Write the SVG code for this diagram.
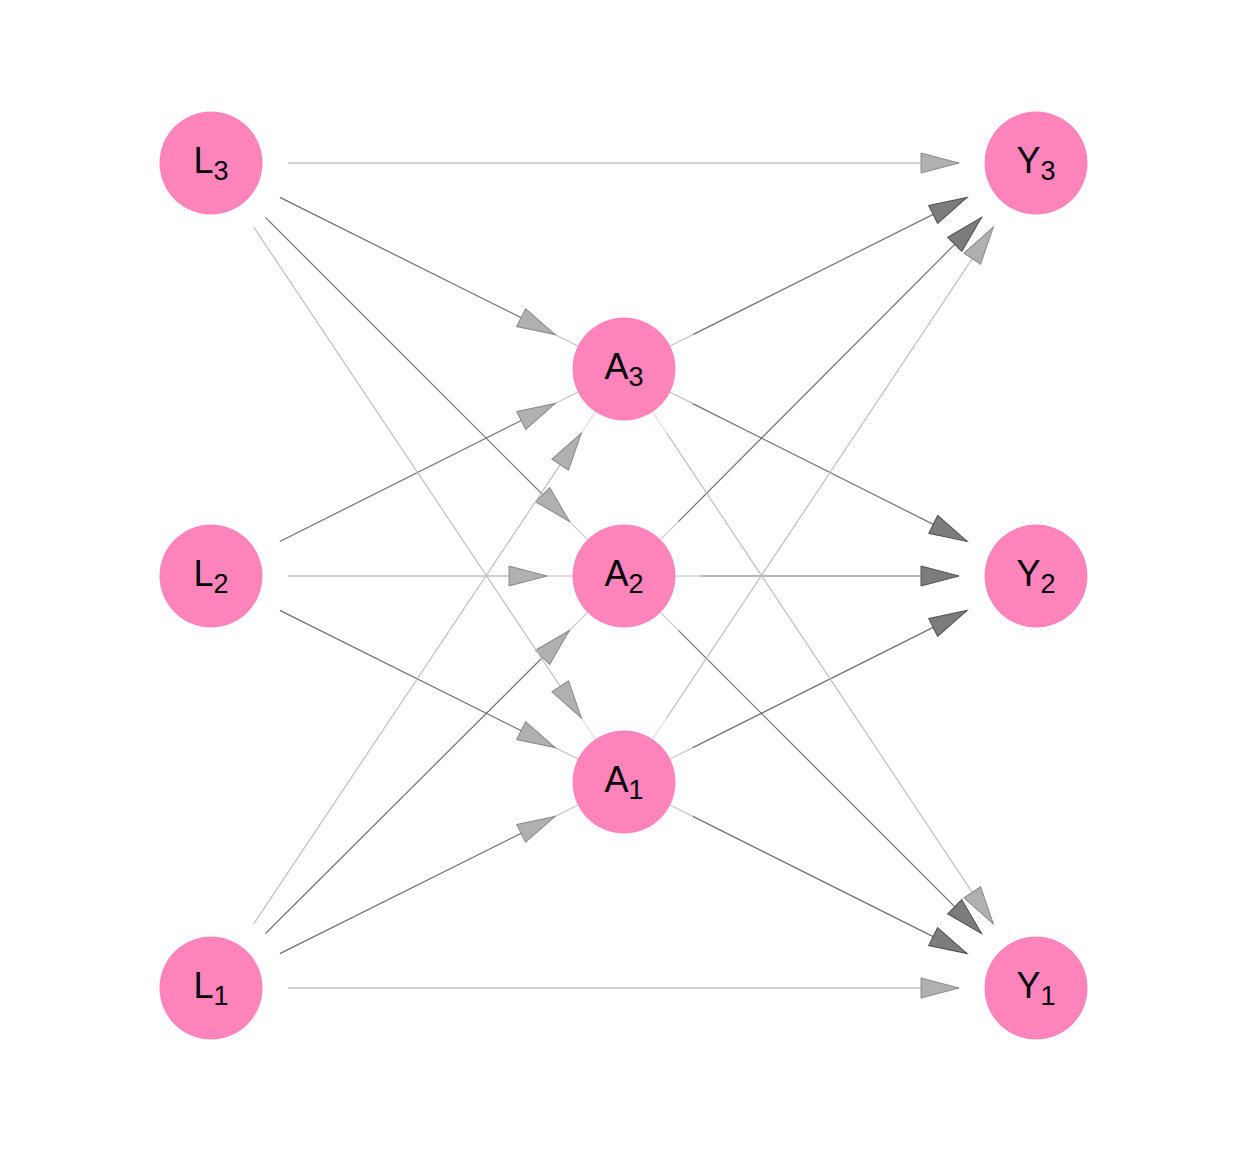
<svg xmlns="http://www.w3.org/2000/svg" width="1248" height="1152" viewBox="0 0 1248 1152">
<style>
.node circle{fill:#ff84bc;}
.node text{font-family:"Liberation Sans",Arial,sans-serif;font-size:36px;fill:#000;text-anchor:middle;}
.node tspan{font-size:27px;}
.e{fill:none;stroke-width:1.2;}
.dk{stroke:#707070;marker-end:url(#hd);}
.dl{stroke:#707070;marker-end:url(#hl);}
.md{stroke:#a3a3a3;marker-end:url(#hl);}
.lt{stroke:#c0c0c0;marker-end:url(#hl);}
.f{stroke:#c6c6c6;stroke-width:1.2;}
.ff{stroke:#dedede;stroke-width:1.2;}
</style>
<defs>
<marker id="hl" markerUnits="userSpaceOnUse" markerWidth="40" markerHeight="24" viewBox="-1 -12 40 24" refX="38" refY="0" orient="auto" overflow="visible">
<path d="M0,-10 L38,0 L0,10 Z" fill="#b0b0b0" stroke="#8a8a8a" stroke-width="1"/>
</marker>
<marker id="hd" markerUnits="userSpaceOnUse" markerWidth="40" markerHeight="24" viewBox="-1 -12 40 24" refX="38" refY="0" orient="auto" overflow="visible">
<path d="M0,-10 L38,0 L0,10 Z" fill="#7c7c7c" stroke="#505050" stroke-width="1"/>
</marker>
</defs>
<rect width="1248" height="1152" fill="#fff"/>
<g id="edges">
<line class="f" x1="577.9" y1="346.0" x2="555.1" y2="334.6"/>
<line class="f" x1="578.0" y1="392.1" x2="555.2" y2="403.5"/>
<line class="ff" x1="595.4" y1="411.8" x2="581.3" y2="433.1"/>
<line class="f" x1="670.1" y1="346.0" x2="692.9" y2="334.6"/>
<line class="f" x1="670.0" y1="392.1" x2="692.8" y2="403.6"/>
<line class="ff" x1="652.5" y1="411.9" x2="666.7" y2="433.1"/>
<line class="f" x1="587.6" y1="539.6" x2="569.6" y2="521.6"/>
<line class="f" x1="572.5" y1="576" x2="547" y2="576"/>
<line class="f" x1="587.6" y1="612.4" x2="569.6" y2="630.4"/>
<line class="f" x1="660.4" y1="539.6" x2="678.4" y2="521.6"/>
<line class="f" x1="675.5" y1="576" x2="701" y2="576"/>
<line class="f" x1="660.4" y1="612.4" x2="678.4" y2="630.4"/>
<line class="ff" x1="595.4" y1="739.2" x2="581.3" y2="717.9"/>
<line class="f" x1="578.0" y1="758.9" x2="555.1" y2="747.6"/>
<line class="f" x1="578.0" y1="805.0" x2="555.1" y2="816.4"/>
<line class="ff" x1="652.5" y1="739.1" x2="666.7" y2="717.9"/>
<line class="f" x1="670.1" y1="759.0" x2="692.9" y2="747.6"/>
<line class="f" x1="670.1" y1="805.0" x2="692.9" y2="816.4"/>
<line class="e md" x1="288" y1="163" x2="959" y2="163"/>
<line class="e md" x1="288" y1="988" x2="959" y2="988"/>
<line class="e md" x1="288" y1="576" x2="547" y2="576"/>
<line class="e dk" x1="701" y1="576" x2="959" y2="576"/>
<line class="e dl" x1="279.9" y1="197.4" x2="555.1" y2="334.6"/>
<line class="e dl" x1="279.8" y1="541.5" x2="555.2" y2="403.5"/>
<line class="e dl" x1="279.9" y1="610.4" x2="555.1" y2="747.6"/>
<line class="e dl" x1="279.9" y1="953.6" x2="555.1" y2="816.4"/>
<line class="e dk" x1="692.9" y1="334.6" x2="967.1" y2="197.4"/>
<line class="e dk" x1="692.8" y1="403.6" x2="967.2" y2="541.4"/>
<line class="e dk" x1="692.9" y1="747.6" x2="967.1" y2="610.4"/>
<line class="e dk" x1="692.9" y1="816.4" x2="967.1" y2="953.6"/>
<line class="e dl" x1="265.4" y1="217.4" x2="569.6" y2="521.6"/>
<line class="e dl" x1="265.5" y1="933.5" x2="569.5" y2="630.5"/>
<line class="e dk" x1="678.4" y1="521.6" x2="981.6" y2="217.4"/>
<line class="e dk" x1="678.4" y1="630.4" x2="981.6" y2="933.6"/>
<line class="e lt" x1="253.7" y1="227.1" x2="581.3" y2="717.9"/>
<line class="e lt" x1="253.7" y1="923.9" x2="581.3" y2="433.1"/>
<line class="e lt" x1="666.7" y1="433.1" x2="993.3" y2="923.9"/>
<line class="e lt" x1="666.7" y1="717.9" x2="993.3" y2="227.1"/>
</g>
<g id="L3" class="node"><circle cx="211" cy="163" r="51.5"/><text x="211" y="173">L<tspan dy="7">3</tspan></text></g>
<g id="L2" class="node"><circle cx="211" cy="576" r="51.5"/><text x="211" y="586">L<tspan dy="7">2</tspan></text></g>
<g id="L1" class="node"><circle cx="211" cy="988" r="51.5"/><text x="211" y="998">L<tspan dy="7">1</tspan></text></g>
<g id="A3" class="node"><circle cx="624" cy="369" r="51.5"/><text x="624" y="379">A<tspan dy="7">3</tspan></text></g>
<g id="A2" class="node"><circle cx="624" cy="576" r="51.5"/><text x="624" y="586">A<tspan dy="7">2</tspan></text></g>
<g id="A1" class="node"><circle cx="624" cy="782" r="51.5"/><text x="624" y="792">A<tspan dy="7">1</tspan></text></g>
<g id="Y3" class="node"><circle cx="1036" cy="163" r="51.5"/><text x="1036" y="173">Y<tspan dy="7">3</tspan></text></g>
<g id="Y2" class="node"><circle cx="1036" cy="576" r="51.5"/><text x="1036" y="586">Y<tspan dy="7">2</tspan></text></g>
<g id="Y1" class="node"><circle cx="1036" cy="988" r="51.5"/><text x="1036" y="998">Y<tspan dy="7">1</tspan></text></g>
</svg>
